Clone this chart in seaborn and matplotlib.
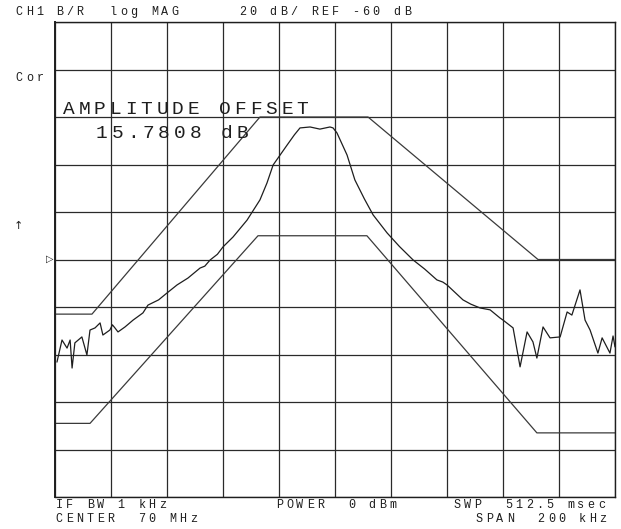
import matplotlib
matplotlib.use("Agg")
import matplotlib.pyplot as plt
import seaborn as sns
import pandas as pd

# ---- data (frequency offset from 70 MHz centre in kHz, level in dB) ----
upper_mask_khz = [-100, -86.8, -26.8, 11.8, 72.5, 100]
upper_mask_db = [-83, -83, 0, 0, -60, -60]

lower_mask_khz = [-100, -87.5, -27.5, 11.4, 72.1, 100]
lower_mask_db = [-129, -129, -50, -50, -133, -133]

trace_khz = [-99.3, -97.5, -95.7, -94.6, -93.9, -92.9, -90.4, -88.6, -87.5, -85.7,
             -83.9, -82.9, -80.4, -79.5, -78.6, -77.5, -75.0, -72.1, -68.6, -66.8,
             -63.0, -60.0, -56.4, -52.5, -48.2, -46.5, -44.6, -42.0, -40.0, -36.4,
             -31.4, -26.8, -24.3, -22.1, -19.6, -17.1, -14.5, -12.5, -8.9, -5.4,
             -1.8, -0.7, 0.7, 4.3, 7.1, 10.5, 13.6, 18.6, 23.0, 27.9,
             32.0, 36.4, 38.5, 40.0, 45.7, 48.5, 51.8, 55.4, 58.9, 60.0,
             63.6, 66.1, 68.6, 70.7, 72.1, 74.3, 76.8, 80.4, 82.9, 84.6,
             87.5, 89.3, 91.1, 93.9, 95.4, 98.2, 99.3, 100.0]
trace_db = [-103.2, -93.9, -97.3, -93.9, -105.7, -95.1, -92.6, -100.2, -89.7, -88.8,
            -86.7, -91.8, -89.7, -87.5, -88.8, -90.5, -88.4, -85.5, -82.5, -79.2,
            -77.0, -74.1, -70.7, -67.8, -63.6, -62.8, -60.2, -57.8, -54.7, -50.5,
            -43.4, -34.9, -27.8, -20.2, -16.0, -11.8, -7.5, -4.6, -4.2, -5.1,
            -4.2, -4.6, -6.7, -16.0, -26.5, -34.5, -41.2, -48.8, -54.5, -60.2,
            -64.0, -68.6, -69.5, -70.7, -77.0, -78.8, -80.4, -81.2, -84.6, -85.5,
            -88.8, -105.2, -90.5, -94.7, -101.5, -88.4, -93.0, -92.6, -82.1, -83.4,
            -72.8, -85.5, -89.7, -99.4, -93.0, -99.4, -92.2, -96.8]

x_ticks_khz = list(range(-100, 101, 20))
y_ticks_db = list(range(-160, 41, 20))

header_texts = [("CH1", 15), ("B/R", 55), ("log MAG", 109), ("20 dB/ REF -60 dB", 238)]
footer_row1 = [("IF BW 1 kHz", 55), ("POWER  0 dBm", 275), ("SWP  512.5 msec", 453)]
footer_row2 = [("CENTER  70 MHz", 55), ("SPAN  200 kHz", 475)]
offset_title = "AMPLITUDE OFFSET"
offset_value = "15.7808 dB"

# ---- figure ----
sns.set_style("white")
plt.rcParams['font.family'] = ['Liberation Mono', 'DejaVu Sans']

W, H = 621, 529
fig = plt.figure(figsize=(W / 100, H / 100), dpi=100)
fig.patch.set_facecolor("white")
ax = fig.add_axes([55 / W, 1 - 497 / H, 560 / W, 475 / H])
ax.set_facecolor("white")

ink = "#1e1e1e"

df_u = pd.DataFrame({"f": upper_mask_khz, "db": upper_mask_db})
df_l = pd.DataFrame({"f": lower_mask_khz, "db": lower_mask_db})
df_t = pd.DataFrame({"f": trace_khz, "db": trace_db})

sns.lineplot(data=df_u, x="f", y="db", ax=ax, color="#3a3a3a", lw=0.9, sort=False, estimator=None)
sns.lineplot(data=df_l, x="f", y="db", ax=ax, color="#3a3a3a", lw=0.9, sort=False, estimator=None)
sns.lineplot(data=df_t, x="f", y="db", ax=ax, color=ink, lw=0.9, sort=False, estimator=None)

ax.set_xlim(-100, 100)
ax.set_ylim(-160, 40)
ax.set_xticks(x_ticks_khz)
ax.set_yticks(y_ticks_db)
ax.set_xticklabels([])
ax.set_yticklabels([])
ax.tick_params(length=0)
ax.set_xlabel("")
ax.set_ylabel("")
ax.grid(True, color="#2a2a2a", lw=0.9)
ax.set_axisbelow(True)
for s in ax.spines.values():
    s.set_color(ink)
    s.set_linewidth(1.0)
ax.spines["left"].set_linewidth(1.4)


def put(s, x0, yc, pitch, size):
    """place string char by char with a plotter-like wide pitch (pixel coords)"""
    for i, ch in enumerate(s):
        if ch == " ":
            continue
        fig.text((x0 + i * pitch + pitch * 0.42) / W, 1 - yc / H, ch, ha="center", va="center",
                 fontsize=size, color=ink)


small_pitch = 10.3
for s, x0 in header_texts:
    put(s, x0, 12, small_pitch, 8.5)
for s, x0 in footer_row1:
    put(s, x0, 505, small_pitch, 8.5)
for s, x0 in footer_row2:
    put(s, x0, 519, small_pitch, 8.5)

put("Cor", 15, 78, small_pitch, 8.5)
fig.text(18 / W, 1 - 226 / H, "↑", ha="center", va="center", fontsize=8, color=ink,
         family="DejaVu Sans")
fig.text(50 / W, 1 - 259 / H, "▷", ha="center", va="center", fontsize=7, color=ink,
         family="DejaVu Sans")

put(offset_title, 62, 109, 15.6, 14)
put(offset_value, 95, 133, 15.6, 14)

fig.savefig("out.png", dpi=100, facecolor="white")
